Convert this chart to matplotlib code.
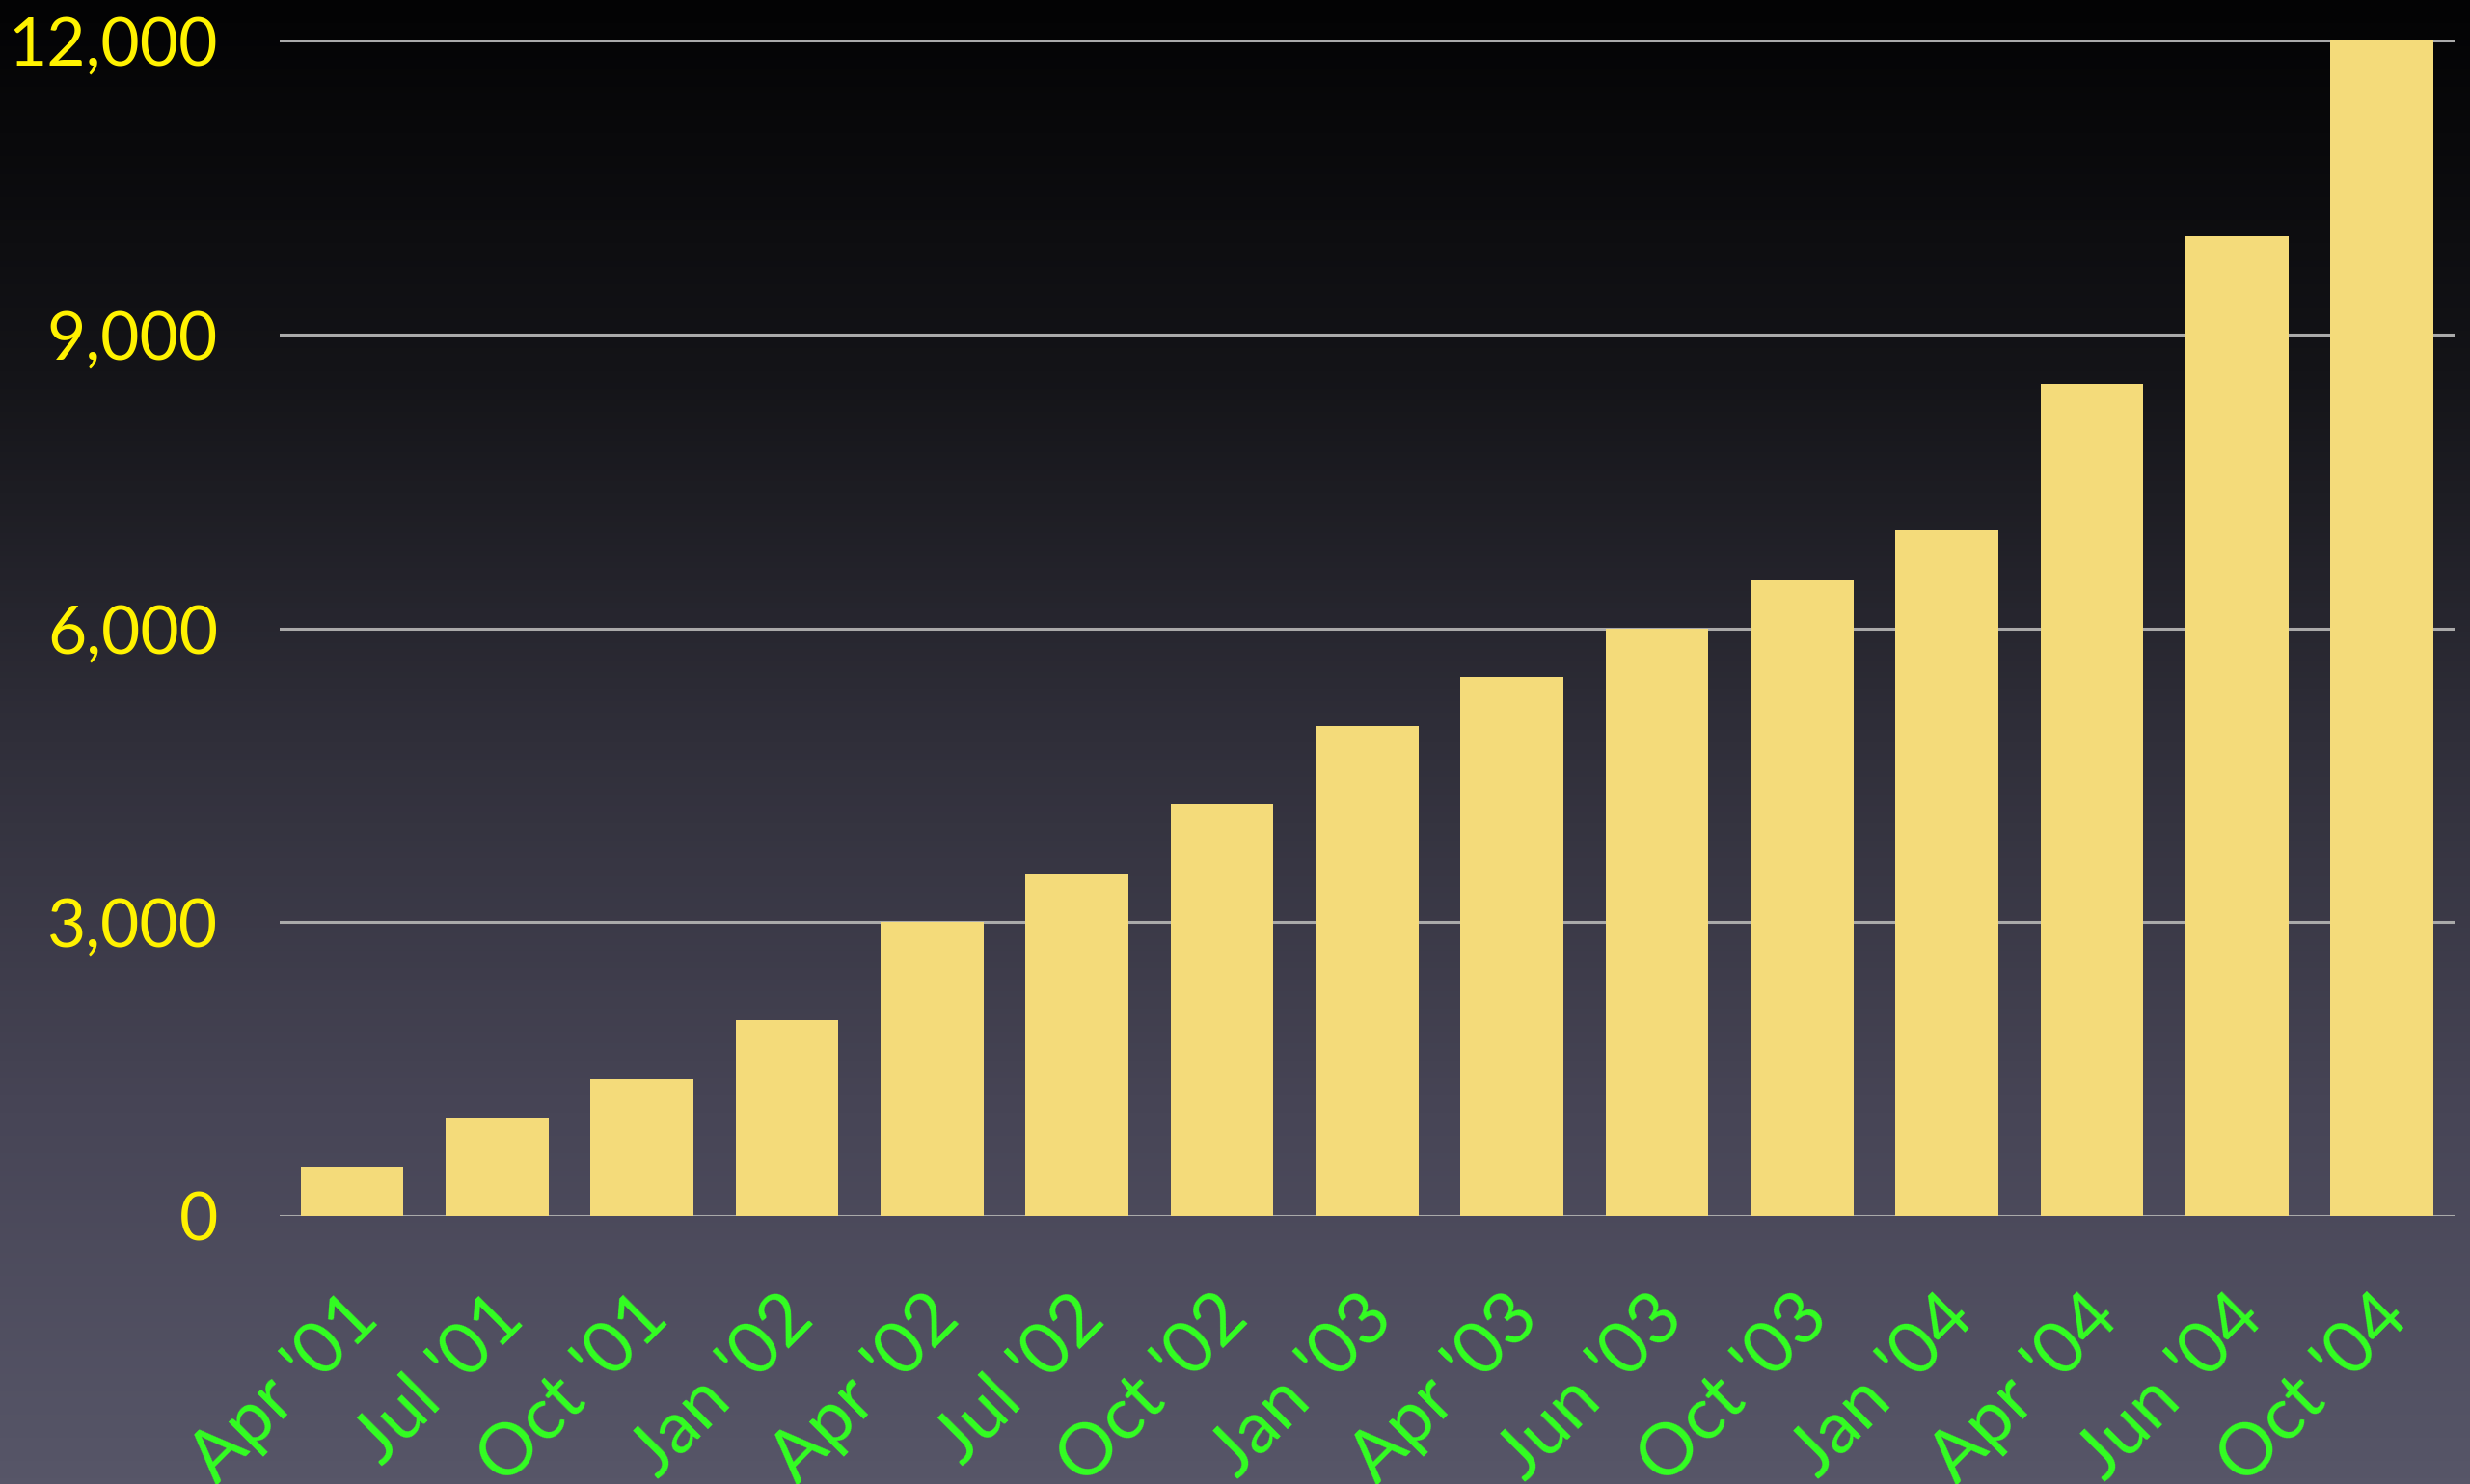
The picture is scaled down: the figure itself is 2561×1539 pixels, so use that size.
import numpy as np
from matplotlib import pyplot as plt
from matplotlib.colors import LinearSegmentedColormap
from matplotlib.ticker import FuncFormatter
import matplotlib.transforms as mtrans

# Quarterly values
labels = ["Apr '01", "Jul '01", "Oct '01", "Jan '02", "Apr '02", "Jul '02", "Oct '02",
          "Jan '03", "Apr '03", "Jun '03", "Oct '03", "Jan '04", "Apr '04", "Jun '04", "Oct '04"]
values = [500, 1000, 1400, 2000, 3000, 3500, 4200, 5000, 5500, 6000, 6500, 7000, 8500, 10000, 12000]
yticks = [0, 3000, 6000, 9000, 12000]

plt.rcParams['font.family'] = ['Lato', 'DejaVu Sans']

fig = plt.figure(figsize=(25.61, 15.39), dpi=100)

# gradient backdrop, black at top to slate at bottom
bg = fig.add_axes([0, 0, 1, 1], zorder=-10)
cmap = LinearSegmentedColormap.from_list("bg", ["#030304", "#141418", "#302f3a", "#474556", "#575668"])
grad = np.linspace(0, 1, 256).reshape(-1, 1)
bg.imshow(grad, aspect="auto", cmap=cmap, extent=[0, 1, 0, 1], origin="upper")
bg.axis("off")

ax = fig.add_axes([0.1132, 0.1806, 0.8805, 0.7921])
ax.patch.set_alpha(0)
x = np.arange(len(values))
ax.bar(x, values, width=0.71, color="#F4DB7A", zorder=3)
ax.set_xlim(-0.5, len(values) - 0.5)
ax.set_ylim(0, 12000)
ax.set_yticks(yticks)
ax.yaxis.set_major_formatter(FuncFormatter(lambda v, p: f"{int(v):,}"))
ax.yaxis.grid(True, color="#AAAAAA", linewidth=2.2, zorder=0)
ax.set_axisbelow(True)
for s in ax.spines.values():
    s.set_visible(False)

ax.set_xticks(x)
ax.set_xticklabels(labels, rotation=45, ha="right", va="top")
ax.tick_params(axis="x", length=0, pad=50, labelsize=54, labelcolor="#33FF22")
ax.tick_params(axis="y", length=0, pad=46, labelsize=50, labelcolor="#FFF200")
# shift x labels so their top-right sits just right of the bar centre
off = mtrans.ScaledTranslation(0.40, 0, fig.dpi_scale_trans)
for lab in ax.get_xticklabels():
    lab.set_transform(lab.get_transform() + off)

fig.savefig("out.png", dpi=100)
